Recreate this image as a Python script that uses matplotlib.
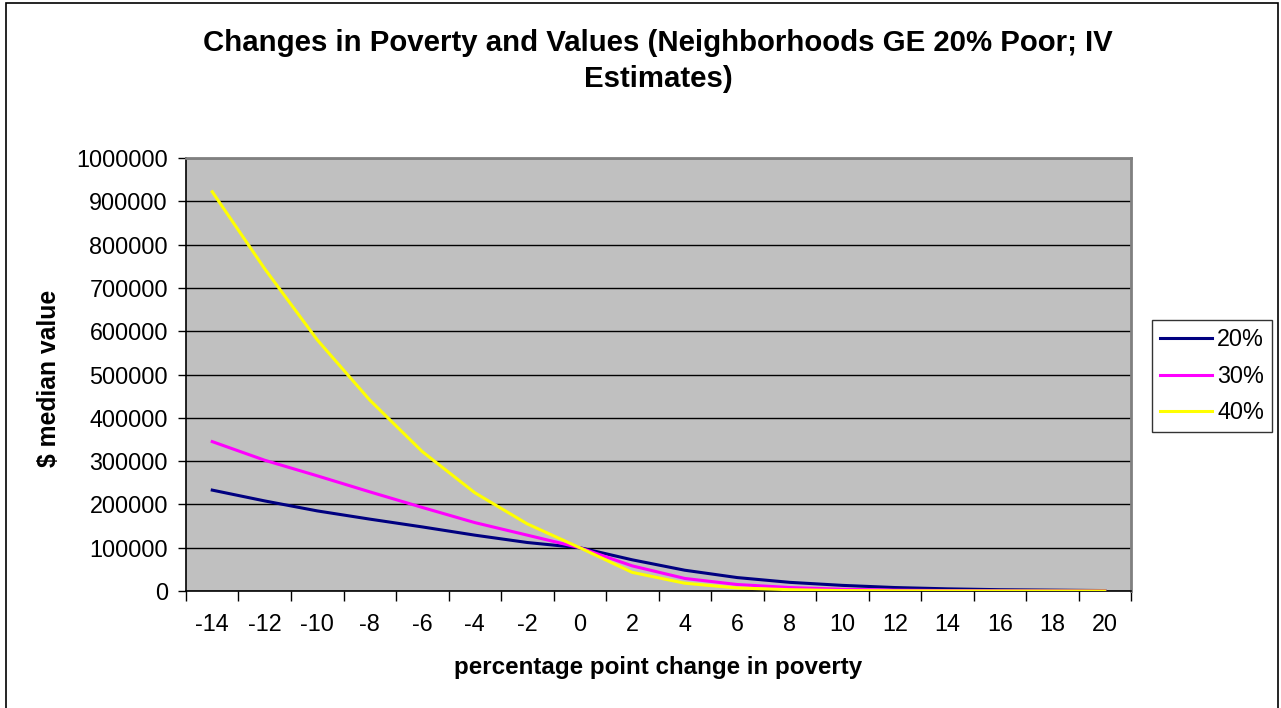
import matplotlib
matplotlib.use("Agg")
import matplotlib.pyplot as plt
from matplotlib.patches import Rectangle
import numpy as np

plt.rcParams["font.family"] = ["Liberation Sans", "DejaVu Sans"]

# percentage point change in poverty (categories)
change = [-14, -12, -10, -8, -6, -4, -2, 0, 2, 4, 6, 8, 10, 12, 14, 16, 18, 20]

# $ median value
pov20 = [233000, 208000, 185000, 166000, 148000, 129000, 112000, 100000, 72000,
         48000, 31000, 20000, 13000, 8000, 5000, 3000, 2000, 1000]
pov30 = [345000, 302000, 266000, 229000, 193000, 158000, 129000, 100000, 58000,
         29000, 15000, 8000, 4000, 2000, 1000, 500, 300, 100]
pov40 = [922000, 744000, 580000, 441000, 322000, 227000, 155000, 100000, 43000,
         18000, 7000, 3000, 1000, 500, 200, 100, 50, 20]

series = [("20%", pov20, "#000080"), ("30%", pov30, "#FF00FF"), ("40%", pov40, "#FFFF00")]

title_lines = ["Changes in Poverty and Values (Neighborhoods GE 20% Poor; IV", "Estimates)"]

W, H = 1281, 708
fig = plt.figure(figsize=(W / 100, H / 100), dpi=100)

# outer chart border
fig.patches.append(Rectangle((6 / W, -0.01), (1278 - 6) / W, 1.0 - 3 / H + 0.01,
                             transform=fig.transFigure, fill=False,
                             edgecolor="black", lw=1.2))

ax = fig.add_axes([186 / W, (H - 591) / H, 945 / W, 433 / H])
ax.set_facecolor("#C0C0C0")

for label, vals, color in series:
    ax.plot(change, vals, color=color, lw=2.2, label=label, zorder=3)

ax.set_ylim(0, 1000000)
ax.set_yticks(np.arange(0, 1000001, 100000))
ax.set_yticklabels([str(v) for v in range(0, 1000001, 100000)])
ax.yaxis.grid(True, color="black", lw=1.0)
ax.set_axisbelow(True)

# category axis: tick marks between categories, labels at the centres
ax.set_xlim(-15, 21)
ax.set_xticks(np.arange(-15, 22, 2))
ax.set_xticklabels([])
ax.set_xticks(change, minor=True)
ax.set_xticklabels([str(c) for c in change], minor=True)
ax.tick_params(axis="x", which="major", length=7, width=1, color="black")
ax.tick_params(axis="x", which="minor", length=0, pad=16, labelsize=16.8)
ax.tick_params(axis="y", length=6, width=1, pad=7, labelsize=16.8)

for side in ("top", "right"):
    ax.spines[side].set_color("#808080")
    ax.spines[side].set_linewidth(2)
for side in ("left", "bottom"):
    ax.spines[side].set_color("black")
    ax.spines[side].set_linewidth(1.2)

ax.set_xlabel("percentage point change in poverty", fontsize=17.4, fontweight="bold", labelpad=14)
ax.set_ylabel("$ median value", fontsize=17.8, fontweight="bold")
ax.yaxis.set_label_coords((61 - 186) / 945, 0.49)

fig.text(658 / W, 1 - 43 / H, title_lines[0], ha="center", va="center",
         fontsize=21.2, fontweight="bold")
fig.text(658 / W, 1 - 79 / H, title_lines[1], ha="center", va="center",
         fontsize=21.2, fontweight="bold")

leg = fig.legend(loc="upper left", bbox_to_anchor=(1152 / W, 1 - 320 / H),
                 fontsize=16.8, frameon=True, fancybox=False, handlelength=2.2,
                 handletextpad=0.25, labelspacing=0.58, borderpad=0.35,
                 borderaxespad=0)
leg.get_frame().set_edgecolor("black")
leg.get_frame().set_linewidth(1.0)

fig.savefig("out.png", dpi=100)
